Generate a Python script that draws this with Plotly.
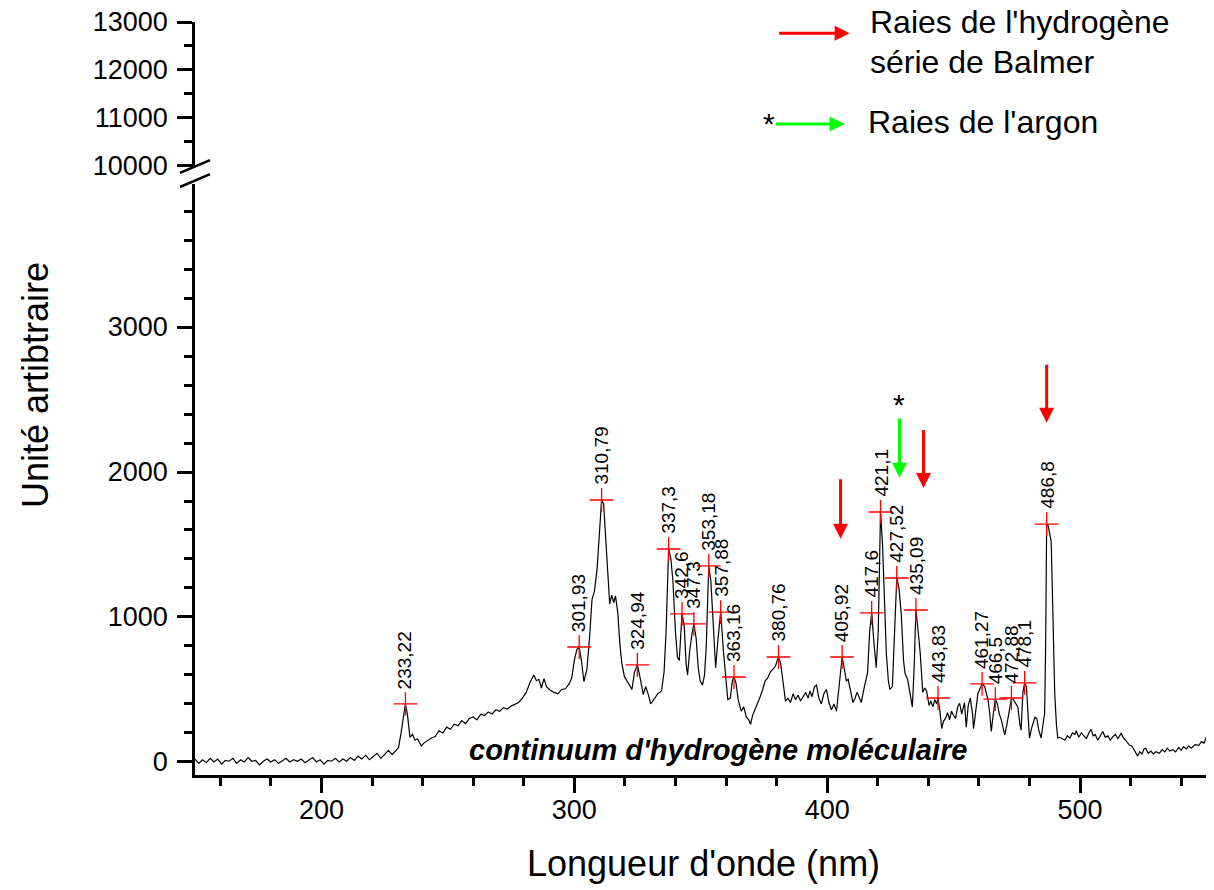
import plotly.graph_objects as go

# ---------------- data ----------------
wavelength = [150,151.5,153,154.5,156,157.5,159,160.5,162,163.5,165,166.5,168,169.5,171,172.5,174,175.5,177,178.5,
              180,181.5,183,184.5,186,187.5,189,190.5,192,193.5,195,196.5,198,199.5,201,202.5,204,205.5,207,208.5,
              210,211.5,213,214.5,216,217.5,219,220.5,222,223.5,225,226.5,228,229.5,230.5,231.5,232.5,233.2,234,235,
              236,237,238,239.5,240.5,242,243.5,245,246.5,248,249.5,251,252.5,254,255.5,257,258.5,260,261.5,263,
              264.5,266,267.5,269,270.5,272,273.5,275,276.5,278,279.5,281,282.5,284,285,286,287,288,289,290.5,
              292,293.5,295,296.5,298,299,300,301,301.93,302.8,303.8,305,306,307,308,309,309.8,310.79,311.6,312.4,
              313.2,314,314.8,315.6,316.3,317.2,318,318.8,319.8,320.8,322,322.8,323.8,324.94,325.8,326.5,327.3,328.2,
              329.2,330.2,331.5,333,334.5,335.5,336.3,337.3,338.2,339,340,340.8,341.5,342,342.6,343.5,344.2,344.8,
              345.6,346.5,347.3,348.2,349,349.8,350.7,351.5,352.2,352.8,353.18,354,355,355.9,356.8,357.88,359,359.8,
              360.7,361.7,362.5,363.16,364,364.8,366,367,368,369,369.7,370.5,371.5,372.5,373.5,374.5,375.5,376.5,
              377.5,378.6,379.5,380.76,381.6,382.5,383.5,384.5,385.5,386.5,387.5,388.5,389.5,390.5,391.5,392.5,393.2,
              394,395,395.8,396.7,397.7,398.7,399.7,400.7,401.7,402.7,403.7,404.5,405.2,405.92,406.8,407.6,408.3,
              409.2,410.2,411,411.8,412.6,413.5,414.5,415.3,416,416.8,417.6,418.5,419.4,420.2,421.1,421.9,422.7,
              423.4,424.2,424.8,425.8,426.5,427.52,428.4,429.3,430.2,430.8,431.8,432.8,433.7,434.4,435.09,436,436.8,
              437.8,438.6,439.3,440.3,441,441.8,442.6,443.3,443.83,444.6,445.3,446,446.8,447.6,448.4,449.2,450,450.8,
              451.6,452.4,453.2,454.3,455,455.8,456.6,457.5,457.9,458.8,459.6,460.3,461.27,462.3,463.6,464.2,464.9,
              465.7,466.5,467.3,468.1,468.9,469.6,470.2,471,471.6,472.3,472.88,473.6,474.5,475.4,476.2,476.7,477.4,
              478.1,478.8,479.4,480,480.8,481.4,482.2,482.9,483.7,484.6,485.4,486,486.4,486.8,487.4,488,488.6,489.3,
              490,490.7,491.2,492,493,494,495,496,497,498,498.5,499.5,500.5,501.5,502.5,503.5,504.4,505.2,506,507,
              508,509,510,511,512,513,514,515,516.3,517,518,519,519.6,520.5,521.5,522.3,522.8,523.6,524.5,525.3,
              526,527,528,529,530,531.4,532.5,533.5,534.5,535.5,536.7,537.8,539,540,541,542,543,544,545.5,547,
              548,549,550]
intensity = [20,-10,15,-5,25,0,20,-15,10,5,25,-10,15,0,30,5,10,-20,5,20,
             0,15,-10,10,25,0,15,5,20,-5,10,30,0,15,-15,10,5,25,0,20,
             5,30,10,40,20,45,15,35,60,25,55,80,50,85,100,200,340,400,330,170,
             190,150,160,110,130,150,165,175,215,200,240,225,260,250,285,265,300,310,290,330,
             320,345,330,360,350,375,365,385,395,410,440,480,550,600,560,570,510,575,520,495,
             480,470,500,505,540,580,700,775,793,700,555,640,850,1120,1180,1330,1540,1807,1780,1550,
             1250,1090,1150,1100,1145,1030,820,680,590,560,530,500,620,669,600,530,465,520,
             470,400,430,470,490,620,900,1469,1400,1250,900,720,700,880,1021,930,680,600,
             760,880,952,850,650,560,530,600,800,1150,1352,1250,920,650,840,1034,760,590,
             430,440,560,586,540,430,350,380,310,290,260,320,360,410,450,500,560,580,
             620,640,660,724,680,560,420,440,410,470,430,460,420,450,480,440,490,
             450,520,530,440,400,470,500,410,360,400,350,500,620,724,640,560,570,
             480,410,440,480,450,410,500,560,620,900,1028,820,650,900,1724,1500,1140,
             750,560,500,520,780,1269,1200,1020,700,610,570,470,380,650,1048,900,750,
             480,510,490,390,420,380,430,400,441,350,230,280,300,340,290,350,320,300,
             380,405,330,410,240,390,440,330,230,350,470,500,538,520,430,350,210,
             330,434,400,330,290,240,186,250,320,380,441,430,400,380,260,220,480,
             545,520,300,165,230,270,310,300,220,165,250,336,800,1641,1630,1580,1520,1000,
             470,250,165,170,160,150,180,165,200,190,215,170,200,180,160,200,225,180,190,150,
             180,210,170,180,150,175,190,160,200,170,150,130,115,110,80,50,40,70,55,90,
             95,60,75,55,70,60,85,70,95,75,85,70,100,80,105,90,110,95,120,115,
             140,130,170]

peak_labels = ["233,22", "301,93", "310,79", "324,94", "337,3", "342,6", "347,3", "353,18", "357,88",
               "363,16", "380,76", "405,92", "417,6", "421,1", "427,52", "435,09", "443,83", "461,27",
               "466,5", "472,88", "478,1", "486,8"]
peak_x = [233.22, 301.93, 310.79, 324.94, 337.3, 342.6, 347.3, 353.18, 357.88, 363.16, 380.76, 405.92,
          417.6, 421.1, 427.52, 435.09, 443.83, 461.27, 466.5, 472.88, 478.1, 486.8]
peak_y = [400, 793, 1807, 669, 1469, 1021, 952, 1352, 1034, 586, 724, 724, 1028, 1724, 1269, 1048,
          441, 538, 434, 441, 545, 1641]

# Balmer (red) and argon (green) arrows: x, tail value, tip value
balmer_x = [405.3, 438.1, 486.8]
balmer_tail = [1960, 2300, 2750]
balmer_tip = [1540, 1890, 2340]
argon_x = [428.6]
argon_tail = [2380]
argon_tip = [1960]

x_ticks = [200, 300, 400, 500]
y_ticks_low = [0, 1000, 2000, 3000]
y_ticks_high = [10000, 11000, 12000, 13000]

FONT = "Liberation Sans, Arial, sans-serif"

fig = go.Figure()
fig.add_trace(go.Scatter(x=wavelength, y=intensity, mode="lines",
                         line=dict(color="black", width=1.2), showlegend=False, hoverinfo="skip"))
fig.add_trace(go.Scatter(x=wavelength, y=intensity, mode="lines", yaxis="y2",
                         line=dict(color="black", width=1.2), showlegend=False, hoverinfo="skip"))
fig.add_trace(go.Scatter(x=peak_x, y=peak_y, mode="markers",
                         marker=dict(symbol="cross-thin", size=17, line=dict(color="red", width=1.3)),
                         showlegend=False, hoverinfo="skip"))

annotations = []
for lab, px, py in zip(peak_labels, peak_x, peak_y):
    annotations.append(dict(x=px, y=py, xref="x", yref="y", text=lab, textangle=-90, showarrow=False,
                            xanchor="center", yanchor="bottom", yshift=13,
                            font=dict(family=FONT, size=19, color="black")))

for bx, bt, bp in zip(balmer_x, balmer_tail, balmer_tip):
    annotations.append(dict(x=bx, y=bp, ax=bx, ay=bt, xref="x", yref="y", axref="x", ayref="y",
                            text="", showarrow=True, arrowhead=2, arrowsize=1.0, arrowwidth=3,
                            arrowcolor="#ff0000"))
for gx, gt, gp in zip(argon_x, argon_tail, argon_tip):
    annotations.append(dict(x=gx, y=gp, ax=gx, ay=gt, xref="x", yref="y", axref="x", ayref="y",
                            text="", showarrow=True, arrowhead=2, arrowsize=1.0, arrowwidth=3,
                            arrowcolor="#00ff00"))
    annotations.append(dict(x=gx, y=gt, xref="x", yref="y", text="*", showarrow=False,
                            xanchor="center", yanchor="bottom", yshift=-6,
                            font=dict(family=FONT, size=30, color="black")))

# legend-like annotations
annotations += [
    dict(x=0.645, y=0.985, xref="paper", yref="paper", ax=-72, ay=0, text="", showarrow=True,
         arrowhead=2, arrowsize=1.0, arrowwidth=3, arrowcolor="#ff0000"),
    dict(x=0.640, y=0.8645, xref="paper", yref="paper", ax=-70, ay=0, text="", showarrow=True,
         arrowhead=2, arrowsize=1.0, arrowwidth=3, arrowcolor="#00ff00"),
    dict(x=0.5655, y=0.865, xref="paper", yref="paper", text="*", showarrow=False,
         xanchor="center", yanchor="middle", font=dict(family=FONT, size=30, color="black")),
    dict(x=0.663, y=1.0, xref="paper", yref="paper", text="Raies de l'hydrogène",
         showarrow=False, xanchor="left", yanchor="middle", align="left",
         font=dict(family=FONT, size=32, color="black")),
    dict(x=0.663, y=0.9468, xref="paper", yref="paper", text="série de Balmer",
         showarrow=False, xanchor="left", yanchor="middle", align="left",
         font=dict(family=FONT, size=32, color="black")),
    dict(x=0.661, y=0.867, xref="paper", yref="paper", text="Raies de l'argon",
         showarrow=False, xanchor="left", yanchor="middle", align="left",
         font=dict(family=FONT, size=32, color="black")),
    dict(x=356.7, y=83, xref="x", yref="y", text="<b><i>continuum d'hydrogène moléculaire</i></b>",
         showarrow=False, xanchor="center", yanchor="middle",
         font=dict(family=FONT, size=29, color="black")),
    dict(x=-0.1576, y=(775 - 385) / 753, xref="paper", yref="paper", text="Unité artibtraire",
         textangle=-90, showarrow=False, xanchor="center", yanchor="middle",
         font=dict(family=FONT, size=36, color="black")),
    dict(x=0.5005, y=(775 - 864) / 753, xref="paper", yref="paper", text="Longueur d'onde (nm)",
         showarrow=False, xanchor="center", yanchor="middle",
         font=dict(family=FONT, size=36, color="black")),
]

# axis break marks
shapes = [
    dict(type="line", xref="paper", yref="paper", x0=-0.0148, y0=0.7995, x1=0.0148, y1=0.8167,
         line=dict(color="black", width=2.5)),
    dict(type="line", xref="paper", yref="paper", x0=-0.0148, y0=0.7809, x1=0.0148, y1=0.7981,
         line=dict(color="black", width=2.5)),
]

tickfont = dict(family=FONT, size=27, color="black")
fig.update_layout(
    # page body has an 8px margin: the figure is shrunk by 8px so the plot lands where intended
    width=1206, height=882,
    margin=dict(l=187, r=4, t=14, b=115, autoexpand=False),
    plot_bgcolor="white", paper_bgcolor="white",
    showlegend=False,
    xaxis=dict(range=[150, 551.4], tickvals=x_ticks, ticks="outside", ticklen=15, tickwidth=2.5,
               tickcolor="black", showline=True, linecolor="black", linewidth=2.5, showgrid=False,
               zeroline=False, tickfont=tickfont, anchor="y", tickformat="d", ticklabelstandoff=-6,
               automargin=False,
               minor=dict(dtick=20, tick0=0, ticks="outside", ticklen=8, tickwidth=2.5, tickcolor="black",
                          showgrid=False)),
    yaxis=dict(domain=[0, 0.7855], range=[-90, 3990], tickvals=y_ticks_low, ticks="outside", ticklen=15,
               tickwidth=2.5, tickcolor="black", showline=True, linecolor="black", linewidth=2.5,
               showgrid=False, zeroline=False, tickfont=tickfont, anchor="x", tickformat="d",
               ticklabelstandoff=4, automargin=False,
               minor=dict(dtick=200, tick0=0, ticks="outside", ticklen=8, tickwidth=2.5, tickcolor="black",
                          showgrid=False)),
    yaxis2=dict(domain=[0.8074, 1], range=[9960, 13000], tickvals=y_ticks_high, ticks="outside", ticklen=15,
                tickwidth=2.5, tickcolor="black", showline=True, linecolor="black", linewidth=2.5,
                showgrid=False, zeroline=False, tickfont=tickfont, anchor="x", tickformat="d",
                ticklabelstandoff=4, ticklabeloverflow="allow", automargin=False,
                minor=dict(dtick=500, tick0=0, ticks="outside", ticklen=8, tickwidth=2.5, tickcolor="black",
                           showgrid=False)),
    annotations=annotations,
    shapes=shapes,
)

fig.write_html("out.html")
